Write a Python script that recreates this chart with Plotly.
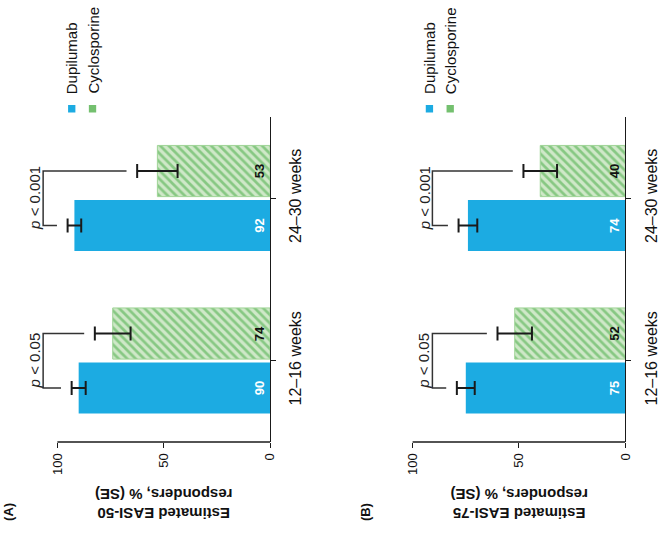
import plotly.graph_objects as go

W, H = 665, 535

# ---------------- data ----------------
categories = ["12–16 weeks", "24–30 weeks"]
series_names = ["Dupilumab", "Cyclosporine"]

easi50_dupilumab = [90, 92]
easi50_dupilumab_se = [3.3, 3.2]
easi50_cyclosporine = [74, 53]
easi50_cyclosporine_se = [8.4, 9.5]

easi75_dupilumab = [75, 74]
easi75_dupilumab_se = [4.2, 4.4]
easi75_cyclosporine = [52, 40]
easi75_cyclosporine_se = [8.1, 7.9]

p_labels = ["<i>p</i> < 0.05", "<i>p</i> < 0.001"]
panel_labels = ["(A)", "(B)"]
panel_titles = ["Estimated EASI-50<br>responders, % (SE)",
                "Estimated EASI-75<br>responders, % (SE)"]
value_ticks = [0, 50, 100]

# ---------------- style ----------------
FONT = "Liberation Sans, Arial, Helvetica, sans-serif"
BLUE = "#1CABE2"
GREEN_BG = "#cfe8c8"
GREEN_FG = "#3fa83d"
BARGAP = 0.33
GROUPGAP = 0.06
XMAX = 125
PPU = 2.15  # pixels per value unit


def px(xp):
    return xp / W


def py(yp):
    return 1 - yp / H


panels = [
    dict(dup=easi50_dupilumab, dup_se=easi50_dupilumab_se,
         cyc=easi50_cyclosporine, cyc_se=easi50_cyclosporine_se,
         xa="x", ya="y", zero_px=273, legx=72.5, labx=8),
    dict(dup=easi75_dupilumab, dup_se=easi75_dupilumab_se,
         cyc=easi75_cyclosporine, cyc_se=easi75_cyclosporine_se,
         xa="x2", ya="y2", zero_px=632, legx=434, labx=369),
]

ycat = list(range(len(categories)))
fig = go.Figure()
shapes = []
annotations = []
off = (1 - BARGAP) / 4

for i, p in enumerate(panels):
    fig.add_trace(go.Bar(
        name=series_names[0], y=ycat, x=p["dup"], orientation="h",
        marker=dict(color=BLUE, line=dict(width=0)),
        error_x=dict(type="data", array=p["dup_se"], color="#1a1a1a",
                     thickness=2, width=7),
        text=[str(v) for v in p["dup"]], textposition="inside",
        insidetextanchor="start", textangle=-90,
        textfont=dict(color="white", size=13, family=FONT, weight="bold"),
        xaxis=p["xa"], yaxis=p["ya"], showlegend=False, hoverinfo="skip"))
    fig.add_trace(go.Bar(
        name=series_names[1], y=ycat, x=p["cyc"], orientation="h",
        marker=dict(color=GREEN_BG, line=dict(width=1, color="#9fd496"),
                    pattern=dict(shape="\\", fgcolor=GREEN_FG,
                                 bgcolor=GREEN_BG, size=6, solidity=0.45)),
        error_x=dict(type="data", array=p["cyc_se"], color="#1a1a1a",
                     thickness=2, width=7),
        text=[str(v) for v in p["cyc"]], textposition="inside",
        insidetextanchor="start", textangle=-90,
        textfont=dict(color="#111111", size=13, family=FONT, weight="bold"),
        xaxis=p["xa"], yaxis=p["ya"], showlegend=False, hoverinfo="skip"))

    # significance brackets
    tops_d = [v + e for v, e in zip(p["dup"], p["dup_se"])]
    tops_c = [v + e for v, e in zip(p["cyc"], p["cyc_se"])]
    bx = max(tops_d + tops_c) + 11.5
    for j in ycat:
        yb, yc = j - off, j + off
        xb, xc = tops_d[j] + 5, tops_c[j] + 5
        shapes.append(dict(
            type="path", xref=p["xa"], yref=p["ya"],
            path=f"M {xc},{yc} L {bx},{yc} L {bx},{yb} L {xb},{yb}",
            line=dict(color="#333333", width=1.5)))
        annotations.append(dict(
            x=bx + 4, y=j, xref=p["xa"], yref=p["ya"], text=p_labels[j],
            textangle=-90, showarrow=False, xanchor="center", yanchor="middle",
            font=dict(family=FONT, size=15, color="#222222")))

    # value axis line from 0 to 100
    shapes.append(dict(
        type="line", xref=p["xa"], yref=p["ya"] + " domain",
        x0=max(value_ticks), x1=min(value_ticks), y0=0, y1=0,
        line=dict(color="#1a1a1a", width=1.3)))

    # axis title (upside-down, as in reference)
    annotations.append(dict(
        x=50, xref=p["xa"], y=py(504), yref="paper", text=panel_titles[i],
        textangle=180, showarrow=False, xanchor="center", yanchor="middle",
        font=dict(family=FONT, size=15, color="#111111", weight="bold")))
    # panel label
    annotations.append(dict(
        x=px(p["labx"]), y=py(512), xref="paper", yref="paper",
        text=panel_labels[i], textangle=-90, showarrow=False,
        xanchor="center", yanchor="middle",
        font=dict(family=FONT, size=13, color="#111111", weight="bold")))

    # custom rotated legend
    for k, name in enumerate(series_names):
        cx = p["legx"] + k * 21
        shapes.append(dict(
            type="rect", xref="paper", yref="paper",
            x0=px(cx - 3.7), x1=px(cx + 3.7), y0=py(112.5), y1=py(105),
            fillcolor=BLUE if k == 0 else "#74c06f", line=dict(width=0)))
        annotations.append(dict(
            x=px(cx + 0.5), y=py(96), xref="paper", yref="paper", text=name,
            textangle=-90, showarrow=False, xanchor="center", yanchor="bottom",
            font=dict(family=FONT, size=15, color="#111111")))

ydom = [py(442), py(117)]
common_x = dict(range=[XMAX, 0], tickvals=value_ticks, ticks="outside",
                ticklen=5, tickwidth=1.3, tickcolor="#1a1a1a", tickangle=-90,
                tickfont=dict(family=FONT, size=13, color="#111111"),
                showline=False, showgrid=False, zeroline=False,
                fixedrange=True)
common_y = dict(range=[-0.5, len(categories) - 0.5], tickvals=ycat,
                ticktext=categories, side="right", showline=True,
                linecolor="#1a1a1a", linewidth=1.3, ticks="outside",
                ticklen=5, tickwidth=1.3, tickcolor="#1a1a1a", tickangle=-90,
                ticklabelstandoff=6,
                tickfont=dict(family=FONT, size=16, color="#111111"),
                showgrid=False, zeroline=False, domain=ydom, fixedrange=True)


def xdomain(p):
    return [px(p["zero_px"] - XMAX * PPU), px(p["zero_px"])]


fig.update_layout(
    width=W, height=H, margin=dict(l=0, r=0, t=0, b=0),
    paper_bgcolor="white", plot_bgcolor="white",
    barmode="group", bargap=BARGAP, bargroupgap=GROUPGAP,
    font=dict(family=FONT),
    xaxis=dict(domain=xdomain(panels[0]), anchor="y", **common_x),
    yaxis=dict(anchor="x", **common_y),
    xaxis2=dict(domain=xdomain(panels[1]), anchor="y2", **common_x),
    yaxis2=dict(anchor="x2", **common_y),
    shapes=shapes, annotations=annotations,
)

fig.write_html("out.html")
